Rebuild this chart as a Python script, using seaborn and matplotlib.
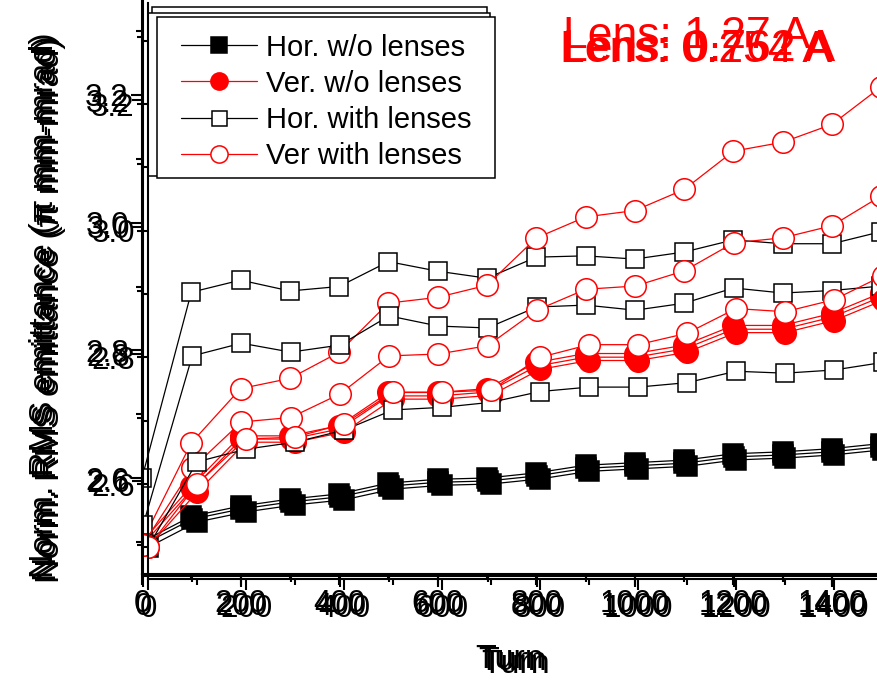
import matplotlib
matplotlib.use("Agg")
import matplotlib.pyplot as plt
import seaborn as sns
from matplotlib.patches import Rectangle
from matplotlib.ticker import MultipleLocator

# ---------------- data ----------------
turns = [0, 100, 200, 300, 400, 500, 600, 700, 800, 900, 1000, 1100, 1200, 1300, 1400, 1500]

hor_wo = [2.50, 2.540, 2.556, 2.567, 2.575, 2.592, 2.598, 2.600, 2.608, 2.620, 2.624, 2.628, 2.638, 2.641, 2.646, 2.654]
ver_wo = [2.50, 2.587, 2.666, 2.666, 2.682, 2.734, 2.734, 2.740, 2.781, 2.795, 2.795, 2.808, 2.839, 2.839, 2.858, 2.890]

hor_with_127 = [2.60, 2.891, 2.910, 2.893, 2.900, 2.939, 2.924, 2.913, 2.946, 2.948, 2.943, 2.954, 2.973, 2.967, 2.967, 2.986]
ver_with_127 = [2.50, 2.655, 2.740, 2.756, 2.797, 2.874, 2.883, 2.902, 2.976, 3.009, 3.019, 3.052, 3.112, 3.126, 3.154, 3.213]

hor_with_0762 = [2.53, 2.797, 2.817, 2.803, 2.814, 2.860, 2.844, 2.841, 2.874, 2.877, 2.869, 2.880, 2.904, 2.896, 2.900, 2.907]
ver_with_0762 = [2.50, 2.620, 2.693, 2.700, 2.737, 2.797, 2.800, 2.813, 2.869, 2.902, 2.907, 2.931, 2.975, 2.983, 3.002, 3.049]

hor_with_0254 = [2.50, 2.635, 2.655, 2.666, 2.685, 2.717, 2.721, 2.729, 2.746, 2.753, 2.753, 2.760, 2.778, 2.775, 2.780, 2.792]
ver_with_0254 = [2.50, 2.600, 2.671, 2.674, 2.695, 2.745, 2.745, 2.748, 2.800, 2.820, 2.820, 2.838, 2.877, 2.872, 2.891, 2.929]

series_labels = ["Hor. w/o lenses", "Ver. w/o lenses", "Hor. with lenses", "Ver with lenses"]
lens_labels = ["Lens: 1.27 A", "Lens: 0.762 A", "Lens: 0.254 A"]
ylabel_text = "Norm. RMS emittance (\u03c0 mm-mrad)"
xlabel_text = "Turn"

# ---------------- style ----------------
sns.set_theme(style="ticks")
plt.rcParams['font.family'] = ['Liberation Sans', 'DejaVu Sans']
plt.rcParams['text.color'] = 'black'
plt.rcParams['axes.labelcolor'] = 'black'
plt.rcParams['xtick.color'] = 'black'
plt.rcParams['ytick.color'] = 'black'

W, H = 877, 683
fig = plt.figure(figsize=(W / 100, H / 100), dpi=100)
fig.patch.set_facecolor('white')

# three overlaid panels (pixel geometry of each)
panels = [
    dict(lens=lens_labels[0], hor=hor_with_127, ver=ver_with_127,
         x0=142, x1400=832, y26=478, y32=95,
         leg=(152, 7, 487, 170), txt=(563, 48), ylab=(60, 305), xlab=(510, 644)),
    dict(lens=lens_labels[1], hor=hor_with_0762, ver=ver_with_0762,
         x0=143, x1400=832, y26=481, y32=100,
         leg=(148, 13, 490, 176), txt=(563, 61), ylab=(63, 308), xlab=(513, 646)),
    dict(lens=lens_labels[2], hor=hor_with_0254, ver=ver_with_0254,
         x0=148, x1400=834, y26=484, y32=104,
         leg=(157, 17, 495, 178), txt=(560, 62), ylab=(66, 310), xlab=(516, 649)),
]

YLO, YHI = 2.45, 3.36
XLO, XHI = 0, 1550


def draw(ax, y, marker, color, face, label, ms):
    sns.lineplot(x=turns, y=y, ax=ax, color=color, marker=marker, markersize=ms,
                 markerfacecolor=face, markeredgecolor=color, markeredgewidth=1.1,
                 linewidth=0.9, label=label, estimator=None, sort=False)


for p in panels:
    xs = (p['x1400'] - p['x0']) / 1400.0
    ys = (p['y26'] - p['y32']) / 0.6
    left_px = p['x0']
    width_px = (XHI - XLO) * xs
    bottom_px = p['y26'] + (2.6 - YLO) * ys
    height_px = (YHI - YLO) * ys
    ax = fig.add_axes([left_px / W, 1 - bottom_px / H, width_px / W, height_px / H])
    ax.set_facecolor('none')

    draw(ax, hor_wo, 's', 'black', 'black', series_labels[0], 14.5)
    draw(ax, ver_wo, 'o', 'red', 'red', series_labels[1], 15.5)
    draw(ax, p['hor'], 's', 'black', 'white', series_labels[2], 13.5)
    draw(ax, p['ver'], 'o', 'red', 'white', series_labels[3], 15.5)

    ax.set_xlim(XLO, XHI)
    ax.set_ylim(YLO, YHI)
    sns.despine(ax=ax)
    for s in ('left', 'bottom'):
        ax.spines[s].set_linewidth(1.5)
        ax.spines[s].set_color('black')
    ax.xaxis.set_major_locator(MultipleLocator(200))
    ax.xaxis.set_minor_locator(MultipleLocator(100))
    ax.yaxis.set_major_locator(MultipleLocator(0.2))
    ax.yaxis.set_minor_locator(MultipleLocator(0.1))
    ax.tick_params(which='major', direction='out', length=8, width=1.5, color='black',
                   labelsize=22.5, labelcolor='black')
    ax.tick_params(which='minor', direction='out', length=4.5, width=1.5, color='black')
    ax.tick_params(axis='y', which='major', pad=1.5)
    ax.tick_params(axis='x', which='major', pad=3)

    ax.set_ylabel(ylabel_text, fontsize=24.5, color='black')
    ax.yaxis.set_label_coords((p['ylab'][0] - left_px) / width_px,
                              (bottom_px - p['ylab'][1]) / height_px)
    ax.set_xlabel(xlabel_text, fontsize=24.5, color='black')
    ax.xaxis.set_label_coords((p['xlab'][0] - left_px) / width_px,
                              (bottom_px - p['xlab'][1]) / height_px)

    lx, ty, rx, by = p['leg']
    handles, labels = ax.get_legend_handles_labels()
    leg = ax.legend(handles, labels, loc='upper left',
                    bbox_to_anchor=((lx + 24) / W, 1 - (ty + 16.5) / H),
                    bbox_transform=fig.transFigure, frameon=False, fontsize=21,
                    borderpad=0, borderaxespad=0, handlelength=2.6,
                    handletextpad=0.3, labelspacing=0.28, markerscale=0.8)
    for t in leg.get_texts():
        t.set_color('black')
    leg.set_zorder(5)
    rect = Rectangle((lx / W, 1 - by / H), (rx - lx) / W, (by - ty) / H,
                     transform=fig.transFigure, facecolor='white', edgecolor='black',
                     linewidth=1.1, zorder=4.9, clip_on=False)
    ax.add_artist(rect)

    ax.text(p['txt'][0] / W, 1 - p['txt'][1] / H, p['lens'], transform=fig.transFigure,
            color='red', fontsize=32, ha='left', va='baseline')

fig.savefig('out.png', dpi=100)
